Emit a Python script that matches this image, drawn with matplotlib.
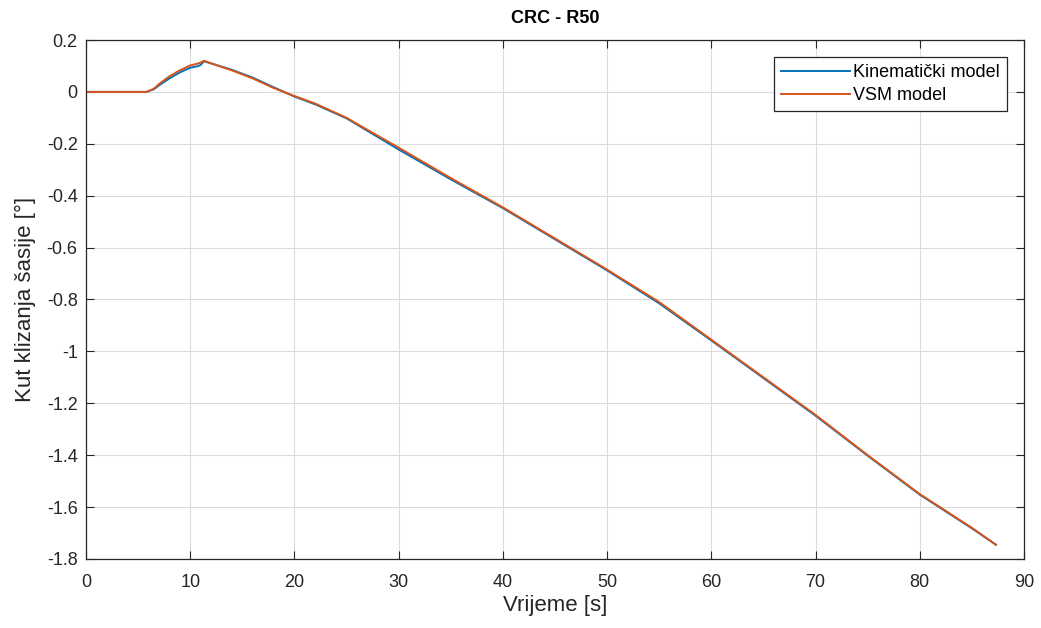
# CRC - R50: kut klizanja sasije, kinematicki vs VSM model
import matplotlib
matplotlib.use('Agg')
import matplotlib.pyplot as plt

time_s = [0, 2, 4, 5.8, 6.5, 7, 8, 9, 10, 10.8, 11, 11.3, 12, 14, 16, 18, 20,
          22, 25, 30, 35, 40, 45, 50, 55, 60, 65, 70, 75, 80, 85, 87.3]
kinematic = [0, 0, 0, 0, 0.01, 0.025, 0.052, 0.075, 0.093, 0.1, 0.104, 0.118,
             0.11, 0.085, 0.055, 0.018, -0.018, -0.048, -0.102, -0.222, -0.337,
             -0.448, -0.568, -0.688, -0.815, -0.958, -1.103, -1.248, -1.402,
             -1.552, -1.682, -1.745]
vsm = [0, 0, 0, 0, 0.012, 0.03, 0.06, 0.083, 0.102, 0.11, 0.113, 0.12, 0.11,
       0.083, 0.052, 0.015, -0.016, -0.045, -0.1, -0.215, -0.332, -0.445,
       -0.565, -0.685, -0.81, -0.955, -1.1, -1.245, -1.4, -1.55, -1.68, -1.745]

plt.rcParams['font.family'] = ['Liberation Sans', 'DejaVu Sans']

fig = plt.figure(figsize=(10.41, 6.28), dpi=100)
ax = fig.add_axes([0.0826, 0.1099, 0.9011, 0.8264])

ax.plot(time_s, kinematic, color='#0072BD', lw=1.4, label='Kinematički model')
ax.plot(time_s, vsm, color='#D95319', lw=1.4, label='VSM model')

ax.set_xlim(0, 90)
ax.set_ylim(-1.8, 0.2)
ax.set_xticks(range(0, 91, 10))
ax.set_yticks([-1.8, -1.6, -1.4, -1.2, -1, -0.8, -0.6, -0.4, -0.2, 0, 0.2])
ax.set_yticklabels(['-1.8', '-1.6', '-1.4', '-1.2', '-1', '-0.8', '-0.6',
                    '-0.4', '-0.2', '0', '0.2'])
ax.grid(True, color='#dcdcdc', lw=0.8)
ax.set_axisbelow(True)
ax.tick_params(direction='in', top=True, right=True, labelsize=13,
               colors='#262626', length=6, pad=6)
ax.tick_params(axis='x', pad=11)
for s in ax.spines.values():
    s.set_color('#262626')
    s.set_linewidth(0.9)

ax.set_title('CRC - R50', fontsize=13, weight='bold', pad=12)
ax.set_xlabel('Vrijeme [s]', fontsize=16, color='#262626', labelpad=3)
ax.set_ylabel('Kut klizanja šasije [°]', fontsize=16, color='#262626',
              labelpad=8)

leg = ax.legend(loc='upper right', bbox_to_anchor=(0.982, 0.968), fontsize=13,
                fancybox=False, framealpha=1, edgecolor='#262626',
                handlelength=3.8, borderpad=0.4, labelspacing=0.35,
                handletextpad=0.2, borderaxespad=0)
leg.get_frame().set_linewidth(0.9)

fig.savefig('out.png', dpi=100)
